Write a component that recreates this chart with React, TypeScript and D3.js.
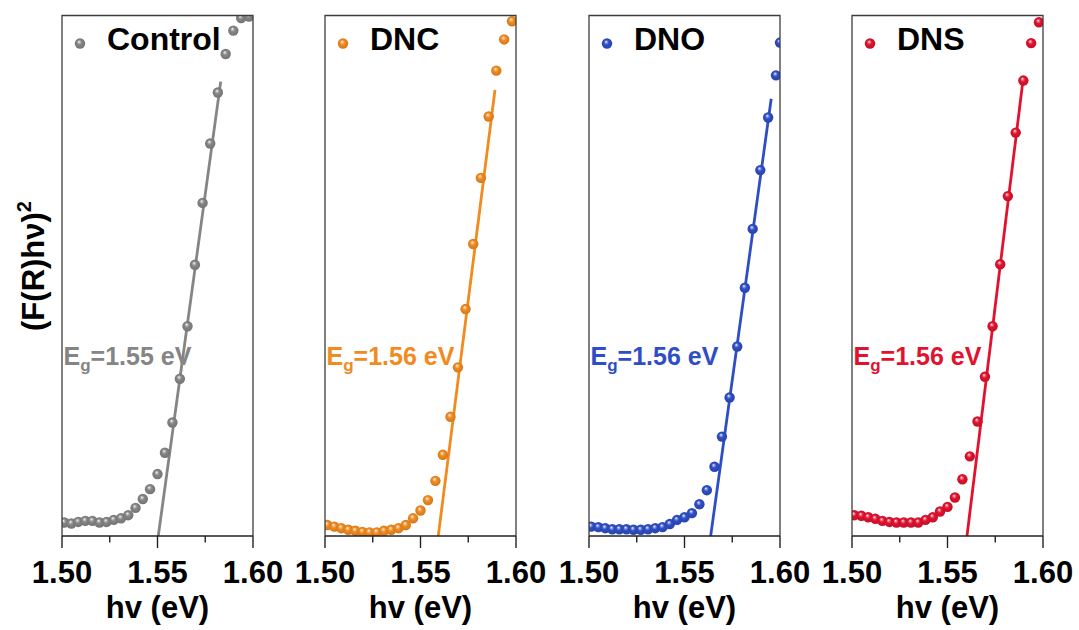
import React from "react";
import * as d3 from "d3";

// Photon energy grid (eV) shared by the samples
const photonEnergy = [
  1.5012, 1.5049, 1.5085, 1.5122, 1.5159, 1.5196, 1.5233, 1.5271, 1.5309, 1.5347,
  1.5385, 1.5423, 1.5461, 1.55, 1.5539, 1.5578, 1.5617, 1.5657, 1.5696, 1.5736,
  1.5776, 1.5816, 1.5857, 1.5897, 1.5938, 1.5979,
];
const photonEnergyDNO = [
  1.5012, 1.5049, 1.5085, 1.5122, 1.5159, 1.5196, 1.5233, 1.5271, 1.5309, 1.5347,
  1.5385, 1.5423, 1.5461, 1.55, 1.5539, 1.5578, 1.5617, 1.5657, 1.5696, 1.5736,
  1.5776, 1.5816, 1.5857, 1.5897, 1.5938, 1.5979, 1.6,
];

// (F(R)hν)^2 in arbitrary units
const controlValues = [
  2.6, 2.4, 2.7, 2.9, 2.9, 2.6, 2.7, 3.1, 3.4, 4.0, 5.4, 7.1, 9.0, 11.9, 16.0, 21.8,
  30.2, 40.3, 52.1, 64.0, 75.4, 85.2, 92.6, 97.1, 99.5, 99.8,
];
const dncValues = [
  2.1, 1.8, 1.5, 1.2, 1.0, 0.8, 0.7, 0.7, 1.0, 1.2, 1.5, 2.1, 3.4, 4.9, 6.9, 10.6,
  15.6, 22.9, 32.4, 43.6, 56.1, 68.8, 80.6, 89.4, 95.4, 98.9,
];
const dnoValues = [
  1.8, 1.7, 1.5, 1.3, 1.3, 1.3, 1.2, 1.2, 1.3, 1.5, 1.7, 2.3, 3.1, 3.6, 4.4, 6.1,
  8.8, 13.3, 19.1, 26.6, 36.4, 47.7, 59.0, 70.3, 80.4, 88.5, 94.8,
];
const dnsValues = [
  4.0, 3.9, 3.6, 3.3, 2.9, 2.7, 2.6, 2.6, 2.6, 2.6, 3.1, 3.6, 4.7, 5.6, 7.4, 10.9,
  15.3, 22.0, 30.6, 40.3, 52.2, 65.3, 77.5, 87.5, 94.7, 98.7,
];

const sampleNames = ["Control", "DNC", "DNO", "DNS"];
const sampleEnergies = [photonEnergy, photonEnergy, photonEnergyDNO, photonEnergy];
const sampleValues = [controlValues, dncValues, dnoValues, dnsValues];

// Tauc linear fits: x-intercept (band gap) and upper end of the fitted segment
const bandGaps = [1.5504, 1.5593, 1.5637, 1.5602];
const fitEndEnergy = [1.5831, 1.589, 1.5954, 1.5895];
const fitEndValue = [87.3, 85.7, 84.0, 87.5];

const xTicks = [1.5, 1.55, 1.6];
const xMinorTicks = [1.525, 1.575];

const palette = ["#858585", "#F28A1E", "#2F4EC6", "#E2122F"];

const W = 1079;
const H = 630;
const panelLeft = [62, 325, 589, 852];
const panelW = 191;
const plotTop = 15.5;
const plotBottom = 536;
const plotH = plotBottom - plotTop;
const markerR = 5.2;
const FONT = "Arial, 'Liberation Sans', Helvetica, sans-serif";

function Panel({ idx }: { idx: number }) {
  const x = d3.scaleLinear().domain([1.5, 1.6]).range([0, panelW]);
  const y = d3.scaleLinear().domain([0, 100]).range([plotH, 0]);
  const color = palette[idx];
  const energies = sampleEnergies[idx];
  const values = sampleValues[idx];
  const gradId = `sphere-${idx}`;
  const clipId = `clip-${idx}`;
  const lighter = d3.interpolateRgb(color, "#ffffff")(0.5);
  const darker = d3.interpolateRgb(color, "#000000")(0.15);

  const fitLine = d3
    .line<[number, number]>()
    .x((d) => x(d[0]))
    .y((d) => y(d[1]));
  const fitPath = fitLine([
    [bandGaps[idx], 0],
    [fitEndEnergy[idx], fitEndValue[idx]],
  ]);

  return (
    <g transform={`translate(${panelLeft[idx]},${plotTop})`}>
      <defs>
        <radialGradient id={gradId} cx="50%" cy="50%" r="55%" fx="40%" fy="32%">
          <stop offset="0%" stopColor="#ffffff" />
          <stop offset="16%" stopColor={lighter} />
          <stop offset="42%" stopColor={color} />
          <stop offset="100%" stopColor={darker} />
        </radialGradient>
        <clipPath id={clipId}>
          <rect x={0} y={0} width={panelW} height={plotH} />
        </clipPath>
      </defs>

      <g clipPath={`url(#${clipId})`}>
        <path d={fitPath || ""} fill="none" stroke={color} strokeWidth={2.8} />
        {energies.map((e, i) => (
          <circle key={i} cx={x(e)} cy={y(values[i])} r={markerR} fill={`url(#${gradId})`} />
        ))}
      </g>

      {/* frame */}
      <path
        d={`M0,${plotH} V0 H${panelW} V${plotH}`}
        fill="none"
        stroke="#3c3c3c"
        strokeWidth={1.3}
      />
      <line x1={0} x2={panelW} y1={plotH} y2={plotH} stroke="#222" strokeWidth={1.4} />

      {/* x ticks */}
      {xTicks.map((t) => (
        <line key={`M${t}`} x1={x(t)} x2={x(t)} y1={plotH} y2={plotH + 12} stroke="#222" strokeWidth={1.4} />
      ))}
      {xMinorTicks.map((t) => (
        <line key={`m${t}`} x1={x(t)} x2={x(t)} y1={plotH} y2={plotH + 6.5} stroke="#222" strokeWidth={1.4} />
      ))}
      {xTicks.map((t) => (
        <text
          key={`L${t}`}
          x={x(t)}
          y={plotH + 47}
          textAnchor="middle"
          fontFamily={FONT}
          fontWeight="bold"
          fontSize={31}
          fill="#000"
        >
          {d3.format(".2f")(t)}
        </text>
      ))}
      <text
        x={panelW / 2}
        y={plotH + 82}
        textAnchor="middle"
        fontFamily={FONT}
        fontWeight="bold"
        fontSize={31}
        fill="#000"
      >
        hv (eV)
      </text>

      {/* legend */}
      <circle cx={18} cy={43 - plotTop + 0.5} r={markerR} fill={`url(#${gradId})`} />
      <text x={45} y={50 - plotTop} fontFamily={FONT} fontWeight="bold" fontSize={32} fill="#000">
        {sampleNames[idx]}
      </text>

      {/* band gap label */}
      <text x={1.5} y={365 - plotTop} fontFamily={FONT} fontWeight="bold" fontSize={25} fill={color}>
        E
        <tspan fontSize={17} dy={6}>
          g
        </tspan>
        <tspan dy={-6}>={bandGaps[idx].toFixed(2)} eV</tspan>
      </text>
    </g>
  );
}

export default function App() {
  return (
    <svg
      width={W}
      height={H}
      viewBox={`0 0 ${W} ${H}`}
      style={{ position: "absolute", left: 0, top: 0, background: "#fff", display: "block" }}
    >
      <rect x={0} y={0} width={W} height={H} fill="#fff" />
      {sampleNames.map((_, i) => (
        <Panel key={i} idx={i} />
      ))}
      <text
        transform="translate(44,266) rotate(-90)"
        textAnchor="middle"
        fontFamily={FONT}
        fontWeight="bold"
        fontSize={31}
        fill="#000"
      >
        (F(R)hν)
        <tspan fontSize={20} dy={-13}>
          2
        </tspan>
      </text>
    </svg>
  );
}
